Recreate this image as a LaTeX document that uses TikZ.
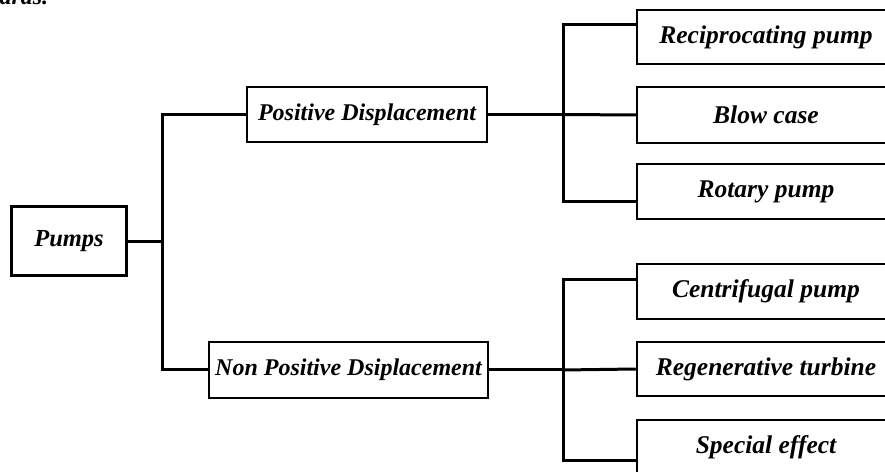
\documentclass[tikz,border=0pt]{standalone}
\usepackage{fontspec}
\setmainfont{Liberation Serif}
\begin{document}
\begin{tikzpicture}[x=1bp,y=-1bp,
  box/.style={draw,line width=2.5bp,rectangle,inner sep=0pt,align=center,
    font=\fontsize{24bp}{28bp}\selectfont\bfseries\itshape},
  leaf/.style={box,minimum width=258bp,font=\fontsize{25.5bp}{29bp}\selectfont\bfseries\itshape},
  conn/.style={line width=3bp}]
\useasboundingbox (0,0) rectangle (885,472);
\clip (0,0) rectangle (885,472);
\node[anchor=base west,font=\fontsize{24bp}{28bp}\selectfont\bfseries\itshape] (frag) at (-4,4.5) {ards.};
\node[box,minimum width=114bp,minimum height=69bp,line width=3bp,font=\fontsize{24.5bp}{28bp}\selectfont\bfseries\itshape] (Pumps) at (69,241.5) {Pumps};
\node[box,minimum width=240bp,minimum height=55bp] (PD) at (367,114.5) {Positive Displacement};
\node[box,minimum width=279bp,minimum height=56bp] (NPD) at (348.5,370) {Non Positive Dsiplacement};
\node[leaf,minimum height=54bp] (Rec) at (766,37) {Reciprocating pump};
\node[leaf,minimum height=56bp] (Blow) at (766,115) {Blow case};
\node[leaf,minimum height=55bp] (Rot) at (766,191.5) {Rotary pump};
\node[leaf,minimum height=55bp] (Cen) at (766,291.5) {Centrifugal pump};
\node[leaf,minimum height=54bp] (Reg) at (766,369) {Regenerative turbine};
\node[leaf,minimum height=55bp] (Spe) at (766,447.5) {Special effect};
\coordinate (j1) at (162,241.5);
\coordinate (j2) at (563,114.5);
\coordinate (j3) at (563,370);
\draw[conn] (Pumps.east) -- (j1);
\draw[conn] (PD.west) -| (j1) |- (NPD.west);
\draw[conn] (PD.east) -- (j2);
\draw[conn] ([yshift=12bp]Rec.west) -| (j2) |- ([yshift=-10.5bp]Rot.west);
\draw[conn] (j2) -- (Blow.west);
\draw[conn] (NPD.east) -- (j3);
\draw[conn] ([yshift=11.5bp]Cen.west) -| (j3) |- ([yshift=-12.5bp]Spe.west);
\draw[conn] (j3) -- (Reg.west);
\end{tikzpicture}
\end{document}
